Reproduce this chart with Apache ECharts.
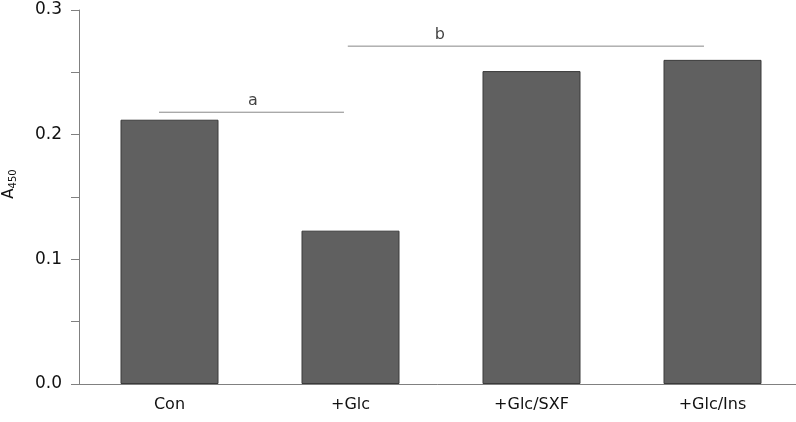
<!DOCTYPE html>
<html>
<head>
<meta charset="utf-8">
<script src="https://cdn.jsdelivr.net/npm/echarts@6/dist/echarts.min.js"></script>
<style>
  html, body { margin: 0; padding: 0; background: #fff; }
  #chart { width: 796px; height: 422px; }
</style>
</head>
<body>
<div id="chart"></div>
<script>
// categories and A450 values
var groups = ['Con', '+Glc', '+Glc/SXF', '+Glc/Ins'];
var a450 = [0.212, 0.123, 0.251, 0.26];
var yTicks = [0, 0.1, 0.2, 0.3];

// significance brackets (x on a -0.5..3.5 scale matching the categories)
var lineA = [[-0.058, 0.218], [0.964, 0.218]];
var lineB = [[0.985, 0.271], [2.953, 0.271]];
var sigLabels = [
  { name: 'a', value: [0.461, 0.218] },
  { name: 'b', value: [1.494, 0.271] }
];

var font = 'DejaVu Sans, Verdana, sans-serif';
var axisGrey = '#808080';

var myChart = echarts.init(document.getElementById('chart'));
myChart.setOption({
  animation: false,
  textStyle: { fontFamily: font },
  grid: { left: 79, top: 10, width: 724, height: 374, containLabel: false, outerBoundsMode: 'none' },
  xAxis: [
    {
      type: 'category',
      data: groups,
      boundaryGap: true,
      axisLine: { lineStyle: { color: axisGrey, width: 1 } },
      axisTick: { show: false },
      axisLabel: { color: '#111', fontSize: 16, margin: 13, fontFamily: font }
    },
    {
      type: 'value',
      min: -0.5,
      max: 3.5,
      show: false
    }
  ],
  yAxis: {
    type: 'value',
    min: yTicks[0],
    max: yTicks[yTicks.length - 1],
    interval: 0.1,
    splitLine: { show: false },
    axisLine: { show: true, onZero: false, lineStyle: { color: axisGrey, width: 1 } },
    axisTick: { show: true, length: 8, lineStyle: { color: axisGrey } },
    minorTick: { show: true, splitNumber: 2, length: 8, lineStyle: { color: axisGrey } },
    axisLabel: {
      color: '#111', fontSize: 17, margin: 17, fontFamily: font,
      formatter: function (v) { return v.toFixed(1); }
    },
    name: '{a|A}{s|450}',
    nameLocation: 'middle',
    nameRotate: 90,
    nameGap: 61,
    nameTextStyle: {
      padding: [0, 0, 0, 26],
      rich: {
        a: { fontSize: 15, color: '#111', fontFamily: font },
        s: { fontSize: 10, color: '#111', fontFamily: font, verticalAlign: 'bottom', padding: [8, 0, 0, 0] }
      }
    }
  },
  series: [
    {
      name: 'A450',
      type: 'bar',
      data: a450,
      barWidth: 98,
      itemStyle: { color: '#606060', borderColor: '#3a3a3a', borderWidth: 1 }
    },
    {
      type: 'line',
      xAxisIndex: 1,
      data: lineA,
      symbol: 'none',
      lineStyle: { color: '#888', width: 1 },
      silent: true
    },
    {
      type: 'line',
      xAxisIndex: 1,
      data: lineB,
      symbol: 'none',
      lineStyle: { color: '#888', width: 1 },
      silent: true
    },
    {
      type: 'scatter',
      xAxisIndex: 1,
      data: sigLabels,
      symbolSize: 0,
      label: {
        show: true,
        position: 'top',
        distance: 3,
        formatter: '{b}',
        color: '#111',
        fontSize: 16,
        fontFamily: font
      },
      silent: true
    }
  ]
});
</script>
</body>
</html>
